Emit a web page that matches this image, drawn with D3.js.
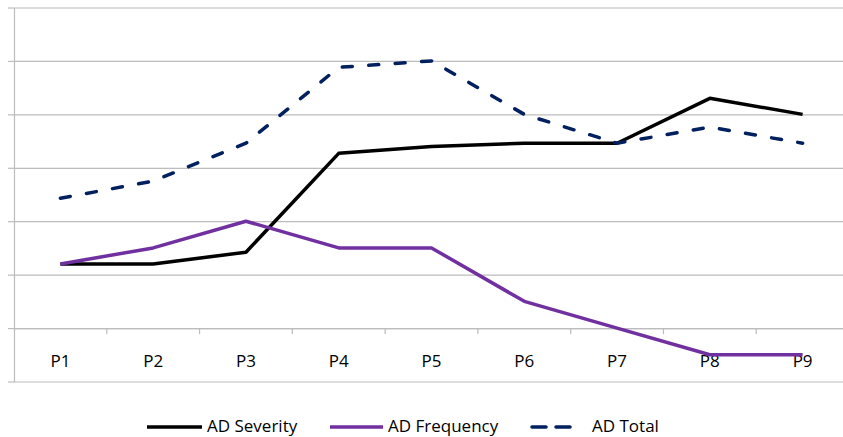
<!DOCTYPE html>
<html>
<head>
<meta charset="utf-8">
<script src="https://cdn.jsdelivr.net/npm/d3@7"></script>
<style>
  html, body { margin: 0; padding: 0; background: #fff; }
  svg { display: block; }
  text { font-family: "Open Sans", "Noto Sans", sans-serif; fill: #000; }
</style>
</head>
<body>
<script>
const categories = ["P1", "P2", "P3", "P4", "P5", "P6", "P7", "P8", "P9"];
const severity  = [1.2, 1.2, 1.42, 3.27, 3.4, 3.46, 3.46, 4.3, 4.0];
const frequency = [1.2, 1.5, 2.0, 1.5, 1.5, 0.5, 0.0, -0.5, -0.5];
const total     = [2.43, 2.75, 3.46, 4.88, 5.0, 4.0, 3.46, 3.76, 3.46];
const yTicks    = [-1, 0, 1, 2, 3, 4, 5, 6];
const seriesNames = ["AD Severity", "AD Frequency", "AD Total"];

const W = 843, H = 437;
const svg = d3.select("body").append("svg").attr("width", W).attr("height", H);

const x = d3.scaleBand().domain(categories).range([14, 849]);
const y = d3.scaleLinear().domain([-1, 6]).range([381.5, 7.5]);
const gridColor = "#bcbcbc";

// gridlines
const grid = svg.append("g").attr("class", "grid")
  .attr("transform", "translate(14,0)")
  .call(d3.axisLeft(y).tickValues(yTicks).tickSize(-(849 - 14)).tickFormat(""));
grid.select(".domain").remove();
grid.selectAll("line").attr("stroke", gridColor).attr("stroke-width", 1.2);

// left axis with outer ticks
const yAxis = svg.append("g")
  .attr("transform", "translate(14,0)")
  .call(d3.axisLeft(y).tickValues(yTicks).tickSize(6).tickSizeOuter(0).tickFormat(""));
yAxis.select(".domain").attr("stroke", gridColor).attr("stroke-width", 1.2);
yAxis.selectAll("line").attr("stroke", gridColor).attr("stroke-width", 1.2);

// category axis at value 0
const xAxis = svg.append("g")
  .attr("transform", `translate(0,${y(0)})`)
  .call(d3.axisBottom(x).tickSize(0).tickPadding(27));
xAxis.select(".domain").attr("stroke", gridColor).attr("stroke-width", 1.2);
xAxis.selectAll("text").attr("font-size", 17).attr("fill", "#222");

// category separator ticks
svg.append("g").selectAll("line")
  .data(categories.slice(1))
  .join("line")
  .attr("x1", d => x(d)).attr("x2", d => x(d))
  .attr("y1", y(0)).attr("y2", y(0) + 6)
  .attr("stroke", gridColor).attr("stroke-width", 1.2);

const line = d3.line()
  .x((d, i) => x(categories[i]) + x.bandwidth() / 2)
  .y(d => y(d));

const series = [
  { name: seriesNames[0], values: severity,  color: "#000000", dash: null },
  { name: seriesNames[1], values: frequency, color: "#7030a0", dash: null },
  { name: seriesNames[2], values: total,     color: "#002060", dash: "10,16.5" }
];

svg.append("g").selectAll("path")
  .data(series)
  .join("path")
  .attr("d", d => line(d.values))
  .attr("fill", "none")
  .attr("stroke", d => d.color)
  .attr("stroke-width", 3.5)
  .attr("stroke-linejoin", "round")
  .attr("stroke-linecap", d => d.dash ? "round" : "butt")
  .attr("stroke-dasharray", d => d.dash);

// legend
const legendLayout = [
  { x0: 147, x1: 202, tx: 207 },
  { x0: 330, x1: 383, tx: 388 },
  { x0: 532, x1: 570, tx: 592 }
];
const ly = 427;
const leg = svg.append("g");
series.forEach((s, i) => {
  const L = legendLayout[i];
  leg.append("line")
    .attr("x1", L.x0).attr("x2", L.x1).attr("y1", ly).attr("y2", ly)
    .attr("stroke", s.color).attr("stroke-width", 3.5)
    .attr("stroke-linecap", s.dash ? "round" : "butt")
    .attr("stroke-dasharray", s.dash ? "14,10" : null);
  leg.append("text")
    .attr("x", L.tx).attr("y", 432)
    .attr("font-size", 17).attr("fill", "#222")
    .text(s.name);
});
</script>
</body>
</html>
